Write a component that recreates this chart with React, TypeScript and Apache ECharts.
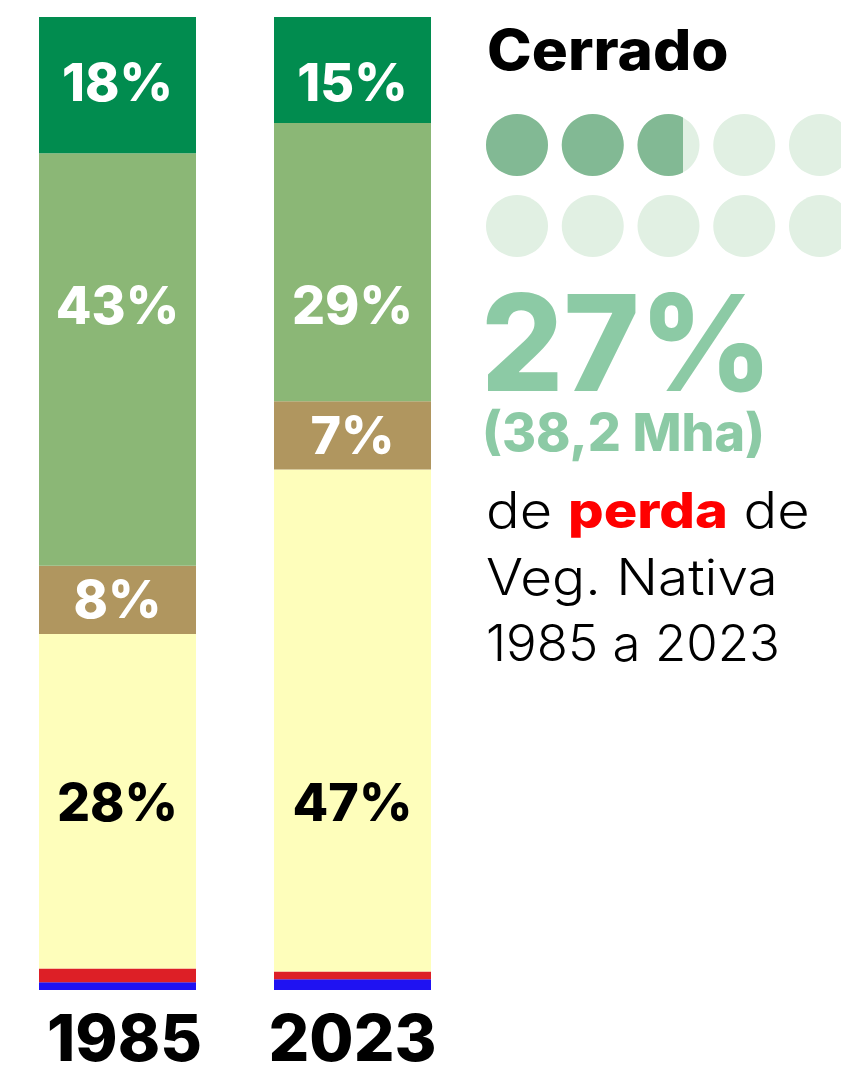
import React, { useEffect, useRef } from "react";
import * as echarts from "echarts";

// Share of each bar's height (%), bottom to top
const years = ["1985", "2023"];
const agua = [0.8, 1.1];
const naoVegetada = [1.4, 0.8];
const agropecuaria = [34.4, 51.6];
const mosaico = [7.0, 7.0];
const savanica = [42.4, 28.6];
const florestal = [14.0, 10.9];

// Printed labels
const florestalLabels = ["18%", "15%"];
const savanicaLabels = ["43%", "29%"];
const mosaicoLabels = ["8%", "7%"];
const agropecuariaLabels = ["28%", "47%"];

// Dots: 27% of native vegetation lost, 10 dots -> 2.7 dots
const dotRows = ["r1", "r2"];
const dotTotal = [5, 5];
const dotLost = [2.7, 0];

const FONT = "Inter, 'Noto Sans', sans-serif";

export default function App() {
  const ref = useRef<HTMLDivElement>(null);
  useEffect(() => {
    if (!ref.current) return;
    const chart = echarts.init(ref.current, null, { renderer: "svg" });

    const bar = (name: string, data: number[], color: string, labels?: string[], labelColor = "#fff") => ({
      name,
      type: "bar",
      stack: "total",
      xAxisIndex: 0,
      yAxisIndex: 0,
      barWidth: 157,
      data,
      itemStyle: { color },
      label: labels
        ? {
            show: true,
            position: "inside",
            formatter: (p: any) => labels[p.dataIndex],
            color: labelColor,
            fontFamily: FONT,
            fontWeight: 800,
            fontSize: 52,
          }
        : { show: false },
    });

    const rowLabels = (labels: string[], yVal: number, color: string) => ({
      type: "scatter",
      xAxisIndex: 0,
      yAxisIndex: 0,
      symbolSize: 0,
      silent: true,
      z: 5,
      itemStyle: { opacity: 1 },
      data: years.map((_, i) => [i, yVal]),
      label: {
        show: true,
        position: "inside",
        formatter: (p: any) => labels[p.dataIndex],
        color,
        opacity: 1,
        fontFamily: FONT,
        fontWeight: 800,
        fontSize: 52,
      },
    });

    const rowTop = 93.3;
    const rowMid = 70.4;
    const rowLow = 19.3;

    chart.setOption({
      animation: false,
      grid: [
        { left: 0, width: 470, top: 17, bottom: 79, outerBoundsMode: "none", containLabel: false },
        { left: 486, width: 365, top: 104.5, height: 162, outerBoundsMode: "none", containLabel: false },
      ],
      xAxis: [
        {
          type: "category",
          gridIndex: 0,
          data: years,
          axisLine: { show: false },
          axisTick: { show: false },
          axisLabel: {
            interval: 0,
            hideOverlap: false,
            color: "#000",
            fontFamily: FONT,
            fontWeight: 800,
            fontSize: 64,
            lineHeight: 50,
            margin: 22,
            formatter: (v: string, i: number) => (i === 0 ? "{a|" + v + "}" : v),
            rich: {
              a: {
                color: "#000",
                fontFamily: FONT,
                fontWeight: 800,
                fontSize: 64,
                lineHeight: 50,
                padding: [0, 0, 0, 14],
              },
            },
          },
        },
        { type: "value", gridIndex: 1, min: 0, max: 5, show: false },
      ],
      yAxis: [
        { type: "value", gridIndex: 0, min: 0, max: 100, show: false },
        { type: "category", gridIndex: 1, data: dotRows, inverse: true, show: false },
      ],
      series: [
        bar("Água", agua, "#1f12f2"),
        bar("Área não vegetada", naoVegetada, "#dd1f26"),
        bar("Agropecuária", agropecuaria, "#fefebb"),
        bar("Mosaico", mosaico, "#b0965f", mosaicoLabels),
        bar("Formação Savânica", savanica, "#8bb776"),
        bar("Formação Florestal", florestal, "#018c4f"),
        rowLabels(florestalLabels, rowTop, "#fff"),
        rowLabels(savanicaLabels, rowMid, "#fff"),
        rowLabels(agropecuariaLabels, rowLow, "#000"),
        {
          type: "pictorialBar",
          xAxisIndex: 1,
          yAxisIndex: 1,
          symbol: "circle",
          symbolSize: [62, 62],
          symbolRepeat: 5,
          symbolBoundingData: 5,
          data: dotTotal,
          itemStyle: { color: "#e1f0e3" },
          z: 1,
          silent: true,
        },
        {
          type: "pictorialBar",
          xAxisIndex: 1,
          yAxisIndex: 1,
          symbol: "circle",
          symbolSize: [62, 62],
          symbolRepeat: 5,
          symbolClip: true,
          symbolBoundingData: 5,
          data: dotLost,
          itemStyle: { color: "#82b994" },
          z: 2,
          silent: true,
        },
      ],
      graphic: [
        {
          type: "text",
          x: 487,
          y: 50,
          scaleX: 1.075,
          style: { text: "Cerrado", fontFamily: FONT, fontWeight: 800, fontSize: 56, fill: "#000", verticalAlign: "middle" },
        },
        {
          type: "text",
          x: 481,
          y: 342,
          scaleX: 0.965,
          style: {
            text: "27%",
            fontFamily: FONT,
            fontWeight: 800,
            fontSize: 134,
            lineHeight: 100,
            fill: "#8ccaa5",
            verticalAlign: "middle",
          },
        },
        {
          type: "text",
          x: 482,
          y: 432,
          style: {
            text: "(38,2 Mha)",
            fontFamily: FONT,
            fontWeight: 800,
            fontSize: 52,
            lineHeight: 46,
            fill: "#8ccaa5",
            verticalAlign: "middle",
          },
        },
        {
          type: "text",
          x: 486,
          y: 510,
          scaleX: 1.12,
          style: {
            text: "de {b|perda} de",
            fontFamily: FONT,
            fontWeight: 300,
            fontSize: 50,
            fill: "#000",
            verticalAlign: "middle",
            rich: {
              b: { fontFamily: FONT, fontWeight: 800, fontSize: 50, fill: "#ff0000" },
            },
          },
        },
        {
          type: "text",
          x: 486,
          y: 577,
          scaleX: 1.1,
          style: { text: "Veg. Nativa", fontFamily: FONT, fontWeight: 300, fontSize: 50, fill: "#000", verticalAlign: "middle" },
        },
        {
          type: "text",
          x: 486,
          y: 643,
          scaleX: 1.02,
          style: { text: "1985 a 2023", fontFamily: FONT, fontWeight: 300, fontSize: 50, fill: "#000", verticalAlign: "middle" },
        },
      ],
    });
    return () => chart.dispose();
  }, []);
  return (
    <div
      ref={ref}
      style={{ position: "absolute", left: 0, top: 0, width: 841, height: 1069, background: "#fff" }}
    />
  );
}
